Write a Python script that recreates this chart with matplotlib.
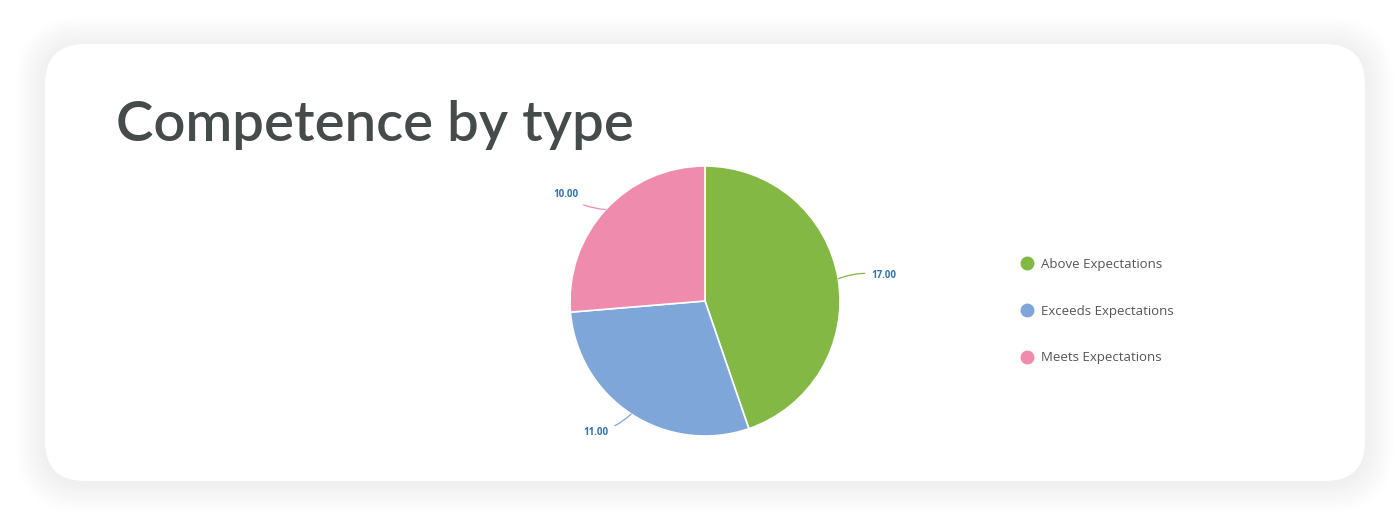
import numpy as np
import matplotlib
matplotlib.use("Agg")
import matplotlib.pyplot as plt
from matplotlib.patches import FancyBboxPatch
from matplotlib.lines import Line2D

# Data
categories = ["Above Expectations", "Exceeds Expectations", "Meets Expectations"]
values = [17, 11, 10]
colors = ["#82b843", "#7ea6d8", "#ef8cae"]
title = "Competence by type"

W, H = 1400, 514
fig = plt.figure(figsize=(W / 100, H / 100), dpi=100)
fig.patch.set_facecolor("white")

# Background axes in pixel coordinates (card + shadow + title)
bg = fig.add_axes([0, 0, 1, 1])
bg.set_xlim(0, W)
bg.set_ylim(H, 0)
bg.axis("off")

card_x, card_y, card_w, card_h, rad = 45, 44, 1320, 437, 40
# soft shadow
for i in range(30, 0, -2):
    bg.add_patch(FancyBboxPatch((card_x - i, card_y - i + 2), card_w + 2 * i, card_h + 2 * i,
                                boxstyle=f"round,pad=0,rounding_size={rad + i}",
                                fc="#000000", ec="none", alpha=0.0025, zorder=1))
bg.add_patch(FancyBboxPatch((card_x, card_y), card_w, card_h,
                            boxstyle=f"round,pad=0,rounding_size={rad}",
                            fc="white", ec="none", zorder=2))

bg.text(116, 141, title, fontsize=40.5, color="#454a4a", family="Lato",
        fontweight="semibold", ha="left", va="baseline", zorder=3)

# Pie axes: center (705, 301), radius 135 px
cx, cy, r = 705, 301, 135
ax = fig.add_axes([(cx - r) / W, (H - cy - r) / H, 2 * r / W, 2 * r / H])
ax.set_zorder(5)
wedges, _ = ax.pie(values, colors=colors, startangle=90, counterclock=False,
                   wedgeprops=dict(edgecolor="white", linewidth=1.2))
ax.set_xlim(-1, 1)
ax.set_ylim(-1, 1)
ax.set_aspect("equal")
ax.axis("off")

for w, v, c in zip(wedges, values, colors):
    mid = np.deg2rad((w.theta1 + w.theta2) / 2)
    x0, y0 = np.cos(mid), np.sin(mid)
    x1, y1 = 1.18 * x0, 1.16 * y0
    right = x0 > 0
    ax.annotate(f"{v:.2f}", xy=(x0, y0), xytext=(x1 + (0.07 if right else -0.07), y1),
                ha="left" if right else "right", va="center",
                fontsize=7, fontweight="bold", color="#3572a8", family="Open Sans",
                arrowprops=dict(arrowstyle="-", color=c, lw=0.9, shrinkA=3, shrinkB=0,
                                connectionstyle="arc3,rad=0.15"),
                annotation_clip=False)

# Legend
handles = [Line2D([0], [0], marker="o", linestyle="none", markersize=9,
                  markerfacecolor=c, markeredgecolor=c) for c in colors]
fig.legend(handles, categories, loc="upper left",
           bbox_to_anchor=(1005 / W, 1 - 246 / H), frameon=False,
           prop={"family": "Open Sans", "size": 9.5}, labelcolor="#555555",
           labelspacing=2.55, handletextpad=0.3, handlelength=1.5)

fig.savefig("out.png", dpi=100)
